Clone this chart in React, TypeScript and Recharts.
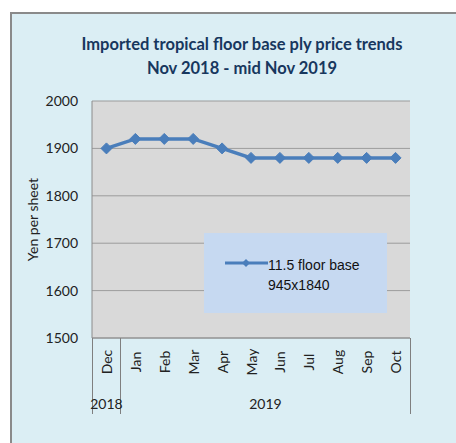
import React from 'react';
import { LineChart, Line, XAxis, YAxis, CartesianGrid, Legend, Label } from 'recharts';

const months = ['Dec', 'Jan', 'Feb', 'Mar', 'Apr', 'May', 'Jun', 'Jul', 'Aug', 'Sep', 'Oct'];
const prices = [1900, 1920, 1920, 1920, 1900, 1880, 1880, 1880, 1880, 1880, 1880];
const years = [
  { label: '2018', count: 1 },
  { label: '2019', count: 10 },
];
const yTicks = [1500, 1600, 1700, 1800, 1900, 2000];
const seriesName = ['11.5 floor base', '945x1840'];

const data = months.map((m, i) => ({ month: m, price: prices[i] }));

const W = 456;
const H = 443;
const FONT = 'Lato, "Open Sans", sans-serif';
const LINE_COLOR = '#4A7EBB';

// chart layout
const margin = { top: 101, right: 46, left: 32, bottom: 15 };
const Y_W = 60;
const X_H = 90;
const plotW = W - margin.left - margin.right - Y_W;
const halfBand = plotW / months.length / 2;

const crisp = (v: number) => Math.floor(v) + 0.5;

const Diamond = (props: any) => {
  const { cx, cy } = props;
  if (typeof cx !== 'number' || typeof cy !== 'number') return null;
  const r = 5.5;
  return (
    <polygon
      points={`${cx},${cy - r} ${cx + r},${cy} ${cx},${cy + r} ${cx - r},${cy}`}
      fill={LINE_COLOR}
      stroke={LINE_COLOR}
    />
  );
};

const MonthTick = (props: any) => {
  const { x, y, payload, index } = props;
  const band = halfBand * 2;
  const lineLen = 76;

  // group separators and year labels
  const extras: React.ReactNode[] = [];
  let start = 0;
  years.forEach((g, gi) => {
    if (index === start) {
      const left = x - band / 2;
      const right = left + g.count * band;
      if (gi === 0) {
        extras.push(
          <line key={`l${gi}`} x1={crisp(left)} x2={crisp(left)} y1={y} y2={y + lineLen} stroke="#7F7F7F" strokeWidth={1} />
        );
      }
      extras.push(
        <line key={`r${gi}`} x1={crisp(right)} x2={crisp(right)} y1={y} y2={y + lineLen} stroke="#7F7F7F" strokeWidth={1} />
      );
      extras.push(
        <text key={`t${gi}`} x={(left + right) / 2} y={y + 71} textAnchor="middle" fontSize={14} fill="#222" fontFamily={FONT}>
          {g.label}
        </text>
      );
    }
    start += g.count;
  });

  return (
    <g>
      <text
        x={x}
        y={y + 24}
        transform={`rotate(-90, ${x}, ${y + 24})`}
        textAnchor="middle"
        dominantBaseline="central"
        fontSize={14}
        fill="#222"
        fontFamily={FONT}
      >
        {payload.value}
      </text>
      {extras}
    </g>
  );
};

const YLabel = (props: any) => {
  const vb = props.viewBox || {};
  const cx = vb.x;
  const cy = vb.y + vb.height / 2;
  return (
    <text
      x={cx}
      y={cy}
      transform={`rotate(-90, ${cx}, ${cy})`}
      textAnchor="middle"
      dominantBaseline="central"
      fontSize={14}
      fill="#222"
      fontFamily={FONT}
    >
      Yen per sheet
    </text>
  );
};

const LegendBox = () => (
  <div
    style={{
      width: '100%',
      height: '100%',
      background: '#C6D9F1',
      fontFamily: '"Liberation Sans", Arial, sans-serif',
      fontSize: 14,
      color: '#111',
      position: 'relative',
    }}
  >
    <svg width={44} height={10} style={{ position: 'absolute', left: 21, top: 25 }}>
      <line x1={0} x2={43} y1={5} y2={5} stroke={LINE_COLOR} strokeWidth={3} />
      <polygon points="21,1 25,5 21,9 17,5" fill={LINE_COLOR} />
    </svg>
    <div style={{ position: 'absolute', left: 64, top: 22, lineHeight: '20px' }}>
      <div>{seriesName[0]}</div>
      <div>{seriesName[1]}</div>
    </div>
  </div>
);

export default function App() {
  return (
    <div style={{ position: 'absolute', left: 0, top: 0, width: W, height: H, overflow: 'hidden', background: '#fff' }}>
      <div
        style={{
          position: 'absolute',
          left: 10,
          top: 12,
          width: 470,
          height: 450,
          background: '#DBEEF4',
          border: '2px solid #8A8A8A',
        }}
      />
      <div
        style={{
          position: 'absolute',
          left: 10,
          width: 464,
          top: 32,
          textAlign: 'center',
          fontFamily: FONT,
          fontWeight: 700,
          fontSize: 16.5,
          lineHeight: '24px',
          color: '#17375E',
        }}
      >
        <div>Imported tropical floor base ply price trends</div>
        <div>Nov 2018 - mid Nov 2019</div>
      </div>
      <LineChart width={W} height={H} data={data} margin={margin} style={{ position: 'absolute', left: 0, top: 0 }}>
        <CartesianGrid horizontal vertical={false} fill="#D9D9D9" stroke="#9C9C9C" fillOpacity={1} />
        <XAxis
          dataKey="month"
          height={X_H}
          interval={0}
          padding={{ left: halfBand, right: halfBand }}
          tickLine={false}
          tickSize={0}
          tickMargin={0}
          axisLine={{ stroke: '#8C8C8C' }}
          tick={<MonthTick />}
        />
        <YAxis
          width={Y_W}
          domain={[1500, 2000]}
          ticks={yTicks}
          interval={0}
          tickLine={false}
          tickSize={0}
          tickMargin={14}
          axisLine={{ stroke: '#8C8C8C' }}
          tick={{ fontSize: 14, fill: '#222', fontFamily: FONT }}
        >
          <Label content={<YLabel />} />
        </YAxis>
        <Legend
          layout="vertical"
          align="center"
          verticalAlign="middle"
          wrapperStyle={{ position: 'absolute', left: 204, top: 233, width: 183, height: 80 }}
          content={<LegendBox />}
        />
        <Line
          type="linear"
          dataKey="price"
          stroke={LINE_COLOR}
          strokeWidth={3.5}
          dot={<Diamond />}
          activeDot={false}
          isAnimationActive={false}
        />
      </LineChart>
    </div>
  );
}
